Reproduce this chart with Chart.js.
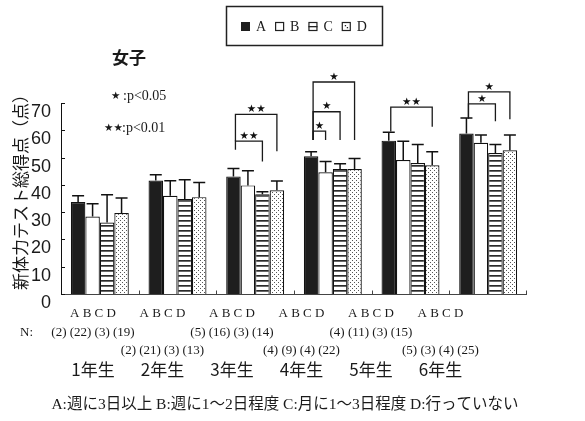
<!DOCTYPE html>
<html>
<head>
<meta charset="utf-8">
<script src="https://cdn.jsdelivr.net/npm/chart.js@4.4.1/dist/chart.umd.min.js"></script>
<style>
  html, body { margin: 0; padding: 0; background: #fff; }
  #wrap { width: 585px; height: 421px; position: relative; }
</style>
</head>
<body>
<div id="wrap"><canvas id="c"></canvas></div>
<script>
// ---- data ----
const grades = ['1年生', '2年生', '3年生', '4年生', '5年生', '6年生'];
const seriesNames = ['A', 'B', 'C', 'D'];
const meanA = [33.7, 41.6, 43.1, 50.5, 56.2, 58.8];
const meanB = [28.4, 36.0, 39.8, 44.6, 49.1, 55.4];
const meanC = [26.2, 34.8, 36.6, 45.8, 48.0, 51.7];
const meanD = [29.7, 35.5, 38.0, 45.8, 47.2, 52.7];
const sdA = [2.3, 2.1, 2.9, 1.6, 3.1, 5.7];
const sdB = [4.7, 5.5, 5.4, 4.0, 6.9, 2.9];
const sdC = [10.2, 7.1, 0.9, 1.9, 6.8, 3.1];
const sdD = [5.5, 5.4, 3.4, 3.9, 4.9, 5.6];
const nCounts = ['(2) (22) (3) (19)', '(2) (21) (3) (13)', '(5) (16) (3) (14)',
                 '(4) (9) (4) (22)', '(4) (11) (3) (15)', '(5) (3) (4) (25)'];
const yMin = 0, yMax = 70, yStep = 10;

// significance brackets: grade index, compared bar pair, bracket level and leg ends (points)
const sigGroup = [2, 2, 3, 3, 3, 4, 5, 5];
const sigFrom  = [0, 0, 0, 0, 0, 0, 0, 0];
const sigTo    = [2, 3, 1, 2, 3, 3, 2, 3];
const sigTop   = [56.0, 65.8, 59.7, 66.8, 77.7, 68.5, 69.7, 74.1];
const sigLeftEnd  = [52.9, 56.0, 56.4, 56.4, 56.4, 59.6, 64.3, 64.3];
const sigRightEnd = [48.6, 52.3, 56.4, 56.4, 56.4, 61.3, 63.3, 64.0];
const sigMark  = ['★★', '★★', '★', '★', '★', '★★', '★', '★'];

const title = '女子';
const yTitle = '新体力テスト総得点（点）';
const footnote = 'A:週に3日以上 B:週に1～2日程度 C:月に1～3日程度 D:行っていない';

// the label block under the axis runs on a slightly tighter pitch than the bar groups
// (expressed in category-axis units)
const labelStart = -0.088;
const labelStep = 0.8948;

// ---- fills ----
function stripes() {
  const cv = document.createElement('canvas');
  cv.width = 6; cv.height = 5;
  const g = cv.getContext('2d');
  g.fillStyle = '#fff'; g.fillRect(0, 0, 6, 5);
  g.fillStyle = '#2a2a2a'; g.fillRect(0, 0, 6, 1.7);
  return g.createPattern(cv, 'repeat');
}
function dots() {
  const cv = document.createElement('canvas');
  cv.width = 4; cv.height = 4;
  const g = cv.getContext('2d');
  g.fillStyle = '#fff'; g.fillRect(0, 0, 4, 4);
  g.fillStyle = '#555';
  g.fillRect(0, 0, 1, 1); g.fillRect(2, 2, 1, 1);
  return g.createPattern(cv, 'repeat');
}
const fills = ['#1e1e1e', '#ffffff', stripes(), dots()];
const means = [meanA, meanB, meanC, meanD];
const sds = [sdA, sdB, sdC, sdD];

const serif = '"Liberation Serif", "Noto Sans CJK JP", serif';
const cjk = '"Noto Sans CJK JP", sans-serif';
const starFont = '"DejaVu Sans", sans-serif';

const decor = {
  id: 'decor',
  afterDatasetsDraw(chart) {
    const ctx = chart.ctx;
    const x = chart.scales.x, y = chart.scales.y;
    const area = chart.chartArea;
    ctx.save();
    ctx.strokeStyle = '#111';

    // error bars (upper half)
    ctx.lineWidth = 1.5;
    for (let d = 0; d < means.length; d++) {
      const meta = chart.getDatasetMeta(d);
      meta.data.forEach((bar, i) => {
        const top = y.getPixelForValue(means[d][i] + sds[d][i]);
        ctx.beginPath();
        ctx.moveTo(bar.x, bar.y);
        ctx.lineTo(bar.x, top);
        ctx.moveTo(bar.x - 6, top);
        ctx.lineTo(bar.x + 6, top);
        ctx.stroke();
      });
    }

    // baseline with small upward ticks between grades
    const y0 = Math.round(y.getPixelForValue(0)) + 0.5;
    ctx.lineWidth = 1;
    ctx.strokeStyle = '#444';
    ctx.beginPath();
    ctx.moveTo(area.left, y0);
    ctx.lineTo(area.right, y0);
    for (let i = 0; i < grades.length; i++) {
      const bx = i < grades.length - 1
        ? Math.round((x.getPixelForValue(i) + x.getPixelForValue(i + 1)) / 2) + 0.5
        : Math.round(area.right) - 0.5;
      ctx.moveTo(bx, y0);
      ctx.lineTo(bx, y0 - 4);
    }
    ctx.stroke();

    // inward ticks on the value axis
    ctx.strokeStyle = '#111';
    ctx.beginPath();
    for (let v = yMin; v <= yMax; v += yStep) {
      const ty = Math.round(y.getPixelForValue(v)) + 0.5;
      ctx.moveTo(area.left, ty);
      ctx.lineTo(area.left + 4, ty);
    }
    ctx.stroke();

    // significance brackets
    ctx.lineWidth = 1.3;
    ctx.strokeStyle = '#1a1a1a';
    ctx.fillStyle = '#111';
    ctx.font = '10.5px ' + starFont;
    ctx.textAlign = 'center';
    ctx.textBaseline = 'middle';
    for (let k = 0; k < sigGroup.length; k++) {
      const g = sigGroup[k];
      const xl = chart.getDatasetMeta(sigFrom[k]).data[g].x + 2;
      const xr = chart.getDatasetMeta(sigTo[k]).data[g].x;
      const yt = y.getPixelForValue(sigTop[k]);
      const yl = y.getPixelForValue(sigLeftEnd[k]);
      const yr = y.getPixelForValue(sigRightEnd[k]);
      ctx.beginPath();
      ctx.moveTo(xl, yl);
      ctx.lineTo(xl, yt);
      ctx.lineTo(xr, yt);
      ctx.lineTo(xr, yr);
      ctx.stroke();
      ctx.fillText(sigMark[k], (xl + xr) / 2, yt - 5);
    }
    ctx.restore();
  },
  afterDraw(chart) {
    const ctx = chart.ctx;
    const x = chart.scales.x;
    ctx.save();
    ctx.fillStyle = '#1a1a1a';
    ctx.textAlign = 'center';
    ctx.textBaseline = 'middle';

    // title
    ctx.font = 'bold 17px ' + cjk;
    ctx.fillText(title, 129, 58);

    // value axis title
    ctx.save();
    ctx.translate(21, 188);
    ctx.rotate(-Math.PI / 2);
    ctx.font = '17px ' + cjk;
    ctx.fillText(yTitle, 0, 0);
    ctx.restore();

    // significance key
    ctx.textAlign = 'left';
    ctx.font = '10.5px ' + starFont;
    ctx.fillText('★', 111, 96);
    ctx.fillText('★★', 104, 128.5);
    ctx.font = '14px ' + serif;
    ctx.fillText(':p<0.05', 123, 96);
    ctx.fillText(':p<0.01', 122, 128.5);

    // legend
    ctx.lineWidth = 1.5;
    ctx.strokeStyle = '#222';
    ctx.strokeRect(226.5, 6.5, 156, 39);
    let lx = 241;
    const iy = 22;
    ctx.font = '14px ' + serif;
    seriesNames.forEach((name, d) => {
      ctx.lineWidth = 1.2;
      if (d === 0) {
        ctx.fillStyle = '#1e1e1e';
        ctx.fillRect(lx, iy, 9, 9);
      } else {
        ctx.fillStyle = '#fff';
        ctx.fillRect(lx, iy, 9, 9);
        ctx.strokeRect(lx + 0.5, iy + 0.5, 8, 8);
        ctx.fillStyle = '#222';
        if (d === 2) ctx.fillRect(lx, iy + 4, 9, 1.3);
        if (d === 3) { ctx.fillRect(lx + 3, iy + 3, 1.3, 1.3); ctx.fillRect(lx + 5, iy + 5, 1.3, 1.3); }
      }
      ctx.fillStyle = '#1a1a1a';
      ctx.fillText(name, lx + 15, 27);
      lx += 15 + ctx.measureText(name).width + 9;
    });

    // category labels under the axis
    ctx.textAlign = 'center';
    ctx.fillStyle = '#1a1a1a';
    grades.forEach((gname, i) => {
      const px = x.getPixelForValue(labelStart + i * labelStep);
      ctx.font = '13px ' + serif;
      ctx.fillText(seriesNames.join(' '), px, 314);
      ctx.fillText(nCounts[i], px, i % 2 === 0 ? 332.5 : 350.5);
      ctx.font = '17px ' + cjk;
      ctx.fillText(gname, px, 370);
    });
    ctx.textAlign = 'left';
    ctx.font = '13px ' + serif;
    ctx.fillText('N:', 20, 332.5);

    // footnote
    ctx.textAlign = 'center';
    ctx.font = '15.5px ' + serif;
    ctx.fillText(footnote, 285, 405);
    ctx.restore();
  }
};

new Chart(document.getElementById('c'), {
  type: 'bar',
  data: {
    labels: grades,
    datasets: seriesNames.map((name, d) => ({
      label: name,
      data: means[d],
      backgroundColor: fills[d],
      borderColor: '#111',
      borderWidth: 1.2,
      borderSkipped: 'bottom'
    }))
  },
  options: {
    responsive: true,
    maintainAspectRatio: false,
    animation: false,
    events: [],
    layout: { padding: { left: 0, top: 103, right: 58, bottom: 127 } },
    datasets: { bar: { categoryPercentage: 0.746, barPercentage: 1.0 } },
    plugins: { legend: { display: false }, tooltip: { enabled: false } },
    scales: {
      x: { type: 'category', display: false, offset: true },
      y: {
        min: yMin, max: yMax,
        afterFit(scale) { scale.width = 61; },
        grid: { display: false, drawTicks: false },
        border: { display: true, color: '#111', width: 1 },
        ticks: {
          stepSize: yStep,
          padding: 10,
          labelOffset: 9,
          color: '#1a1a1a',
          font: { family: '"Liberation Sans", Arial, sans-serif', size: 18 }
        }
      }
    }
  },
  plugins: [decor]
});
</script>
</body>
</html>
